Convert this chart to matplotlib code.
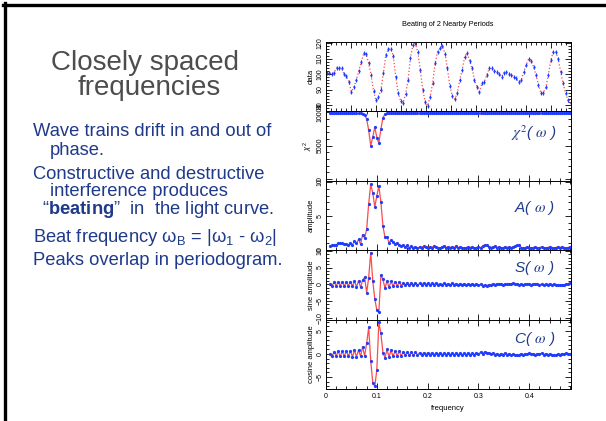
import numpy as np
import matplotlib.pyplot as plt
from matplotlib.lines import Line2D
from matplotlib.ticker import MultipleLocator, AutoMinorLocator

plt.rcParams['font.family'] = ['Liberation Sans', 'DejaVu Sans']
plt.rcParams['mathtext.fontset'] = 'custom'
plt.rcParams['mathtext.rm'] = 'Liberation Sans'
plt.rcParams['mathtext.it'] = 'Liberation Sans:italic'
plt.rcParams['mathtext.bf'] = 'Liberation Sans:bold'

# light curve (top panel), evenly sampled in time
light_curve = [
    100.5, 101, 100, 101, 104, 104, 104, 100, 98.5, 95,
    88.6, 91.5, 96, 102, 107.7, 113.5, 113, 107, 99.5, 89,
    83, 85, 90, 100.5, 112.4, 116.3, 116.3, 112, 98.4, 88,
    82.6, 81.5, 87, 96, 110.7, 119, 120, 114, 102.7, 89.7,
    82, 79.4, 85.4, 94, 107, 114.6, 116.8, 118.3, 113.3, 103.7,
    92.3, 85.8, 83.7, 87.5, 96, 102.6, 111.2, 113.8, 108.6, 104,
    96, 91.8, 88.6, 94, 95, 99.4, 103.7, 103.7, 102, 101.5,
    100, 98.3, 101, 101.5, 100, 99.4, 98.3, 97.2, 95, 96,
    101.5, 105.8, 110, 108.6, 104.7, 99.4, 93, 87.5, 88, 91.4,
    99.4, 109, 114.4, 114.4, 110, 101.5, 94, 87.5, 83.2, 81,
]

# periodogram frequency grid 0.008 .. 0.480, step 0.004
freq = np.round(0.008 + 0.004 * np.arange(119), 3)

chi2 = [
    9900, 9890, 9900, 9890, 9890, 9880, 9890, 9880, 9890, 9870,
    9880, 9870, 9860, 9870, 9840, 9860, 9820, 9650, 9000, 7300,
    5000, 6300, 7800, 6200, 5400, 7500, 9200, 9750, 9850, 9880,
    9890, 9880, 9890, 9900, 9890, 9900, 9890, 9900, 9900, 9890,
    9900, 9890, 9900, 9900, 9890, 9900, 9900, 9890, 9900, 9900,
    9890, 9900, 9900, 9890, 9900, 9900, 9890, 9900, 9900, 9900,
    9890, 9900, 9900, 9890, 9900, 9900, 9900, 9890, 9900, 9900,
    9890, 9900, 9900, 9900, 9890, 9880, 9870, 9880, 9890, 9900,
    9900, 9890, 9900, 9900, 9890, 9900, 9900, 9900, 9890, 9900,
    9890, 9880, 9880, 9890, 9900, 9900, 9890, 9900, 9900, 9890,
    9900, 9900, 9890, 9900, 9900, 9900, 9890, 9900, 9900, 9890,
    9900, 9900, 9890, 9900, 9900, 9890, 9900, 9900, 9890,
]

amp = [
    0.5, 0.6, 0.7, 0.7, 0.9, 1.0, 0.9, 0.8, 0.8, 0.7,
    0.9, 0.7, 1.3, 0.9, 1.5, 0.8, 2.2, 1.7, 3.0, 6.8,
    9.7, 8.4, 6.3, 8.0, 9.4, 7.0, 3.5, 1.8, 1.9, 1.0,
    1.4, 1.1, 0.8, 1.0, 0.6, 0.5, 0.7, 0.4, 0.6, 0.3,
    0.5, 0.3, 0.4, 0.2, 0.4, 0.3, 0.5, 0.4, 0.3, 0.4,
    0.3, 0.5, 0.4, 0.3, 0.2, 0.4, 0.5, 0.3, 0.4, 0.3,
    0.4, 0.3, 0.5, 0.3, 0.4, 0.3, 0.2, 0.3, 0.4, 0.3,
    0.4, 0.2, 0.3, 0.4, 0.3, 0.5, 0.7, 0.7, 0.4, 0.3,
    0.4, 0.5, 0.3, 0.4, 0.3, 0.2, 0.4, 0.3, 0.4, 0.3,
    0.4, 0.5, 0.6, 0.6, 0.3, 0.2, 0.3, 0.4, 0.3, 0.2,
    0.3, 0.4, 0.2, 0.3, 0.4, 0.3, 0.2, 0.3, 0.4, 0.3,
    0.2, 0.3, 0.4, 0.3, 0.4, 0.3, 0.2, 0.3, 0.4,
]

sine_amp = [
    0.0, -0.5, 0.6, -0.4, 0.7, -0.5, 0.8, -0.6, 0.7, -0.5,
    0.8, -0.6, 0.9, -0.8, 1.0, -0.9, 1.2, 2.1, -2.6, 2.0,
    9.5, 1.0, -4.5, -7.7, -8.4, 2.8, 1.5, -1.2, 1.0, -0.9,
    0.9, -0.6, 0.8, -0.5, 0.6, -0.4, 0.5, -0.3, 0.5, -0.3,
    0.4, -0.2, 0.4, -0.3, 0.3, -0.2, 0.4, -0.2, 0.3, -0.3,
    0.3, -0.1, 0.3, -0.2, 0.2, -0.2, 0.3, -0.1, 0.2, -0.2,
    0.3, -0.1, 0.2, -0.2, 0.2, -0.1, 0.2, -0.2, 0.1, -0.1,
    0.2, -0.2, 0.1, -0.3, 0.0, -0.4, -0.2, -0.5, -0.1, -0.2,
    0.1, -0.1, 0.2, 0.0, 0.2, -0.1, 0.1, 0.0, 0.2, 0.1,
    0.3, 0.0, 0.2, -0.1, 0.1, -0.1, 0.1, 0.0, 0.1, -0.1,
    0.1, 0.0, 0.1, -0.1, 0.0, -0.2, 0.0, -0.1, 0.1, -0.2,
    0.0, -0.2, -0.1, -0.3, -0.1, -0.2, 0.0, 0.2, 0.4,
]

cosine_amp = [
    0.0, -0.5, 0.5, -0.4, 0.6, -0.5, 0.6, -0.5, 0.7, -0.5,
    0.7, -0.6, 0.8, -0.6, 0.9, -0.5, 1.6, -0.4, 2.4, 5.8,
    -1.5, -6.2, -7.0, -3.4, 6.9, 4.5, 0.3, -0.8, 1.0, -0.6,
    0.8, -0.5, 0.7, -0.4, 0.6, -0.4, 0.5, -0.3, 0.5, -0.3,
    0.4, -0.3, 0.4, -0.2, 0.3, -0.3, 0.3, -0.2, 0.3, -0.2,
    0.3, -0.2, 0.2, -0.1, 0.3, -0.2, 0.2, -0.2, 0.3, -0.1,
    0.2, -0.2, 0.3, -0.1, 0.2, -0.2, 0.2, -0.1, 0.3, -0.1,
    0.2, -0.1, 0.3, 0.0, 0.4, 0.1, 0.5, 0.2, 0.3, 0.0,
    0.2, -0.1, 0.1, -0.2, 0.1, -0.1, 0.2, -0.1, 0.1, -0.2,
    0.0, -0.3, -0.1, -0.2, 0.1, -0.1, 0.1, 0.0, 0.2, 0.0,
    0.1, -0.1, 0.1, 0.0, 0.2, -0.1, 0.1, -0.1, 0.0, -0.2,
    -0.1, -0.2, 0.0, -0.1, 0.1, 0.0, 0.2, 0.1, 0.1,
]

freq_ticks = [0, 0.1, 0.2, 0.3, 0.4]
freq_labels = ['0', '0.1', '0.2', '0.3', '0.4']

BLUE = '#1f3dff'
RED = '#ff4a4a'
NAVY = '#1f3a8a'

W, H = 606, 421
fig = plt.figure(figsize=(W / 100, H / 100), dpi=100)


def fx(px):
    return px / W


def fy(py):
    return 1 - py / H


# slide frame (top and left edges visible)
fig.add_artist(Line2D([fx(3), 1], [fy(5), fy(5)], color='black', lw=2.4))
fig.add_artist(Line2D([fx(5), fx(5)], [fy(3), 0], color='black', lw=2.4))

# left text block
fig.text(fx(145), fy(70), 'Closely spaced', fontsize=20, color='#4d4d4d',
         ha='center', va='baseline')
fig.text(fx(149), fy(95), 'frequencies', fontsize=20, color='#4d4d4d',
         ha='center', va='baseline')
body = dict(fontsize=13.2, color=NAVY, va='baseline')
fig.text(fx(33), fy(136), 'Wave trains drift in and out of', **body)
fig.text(fx(50), fy(155), 'phase.', **body)
fig.text(fx(33), fy(179), 'Constructive and destructive', **body)
fig.text(fx(50), fy(196), 'interference produces', **body)
fig.text(fx(42), fy(214), '\u201c$\\mathbf{beating}$\u201d  in  the light curve.', **body)
fig.text(fx(33), fy(242), 'Beat frequency \u03c9$_\\mathrm{B}$ = |\u03c9$_1$ - \u03c9$_2$|', **body)
fig.text(fx(33), fy(265), 'Peaks overlap in periodogram.', **body)

# stacked panels
left, right = 326, 571
edges = [42, 111.4, 180.8, 250.2, 319.6, 389]
axes = []
for k in range(5):
    ax = fig.add_axes([fx(left), fy(edges[k + 1]), (right - left) / W,
                       (edges[k + 1] - edges[k]) / H])
    ax.tick_params(which='both', direction='in', top=True, right=True,
                   labelsize=5, width=0.6, pad=1.5)
    ax.tick_params(which='major', length=4)
    ax.tick_params(which='minor', length=2)
    ax.tick_params(axis='y', labelrotation=90)
    for s in ax.spines.values():
        s.set_linewidth(0.7)
    axes.append(ax)

ylab = dict(fontsize=5.5, labelpad=1.5)

# data panel
ax = axes[0]
t = np.linspace(0.03, 9.78, len(light_curve))
ax.plot(t, light_curve, ':', color=RED, lw=0.9)
ax.errorbar(t, light_curve, yerr=1.3, fmt='o', ms=1.6, color=BLUE,
            mec='none', elinewidth=0.8, capsize=0)
ax.set_xlim(0, 9.8)
ax.set_ylim(75.8, 120.8)
ax.xaxis.set_major_locator(MultipleLocator(1))
ax.xaxis.set_minor_locator(AutoMinorLocator(5))
ax.set_yticks([80, 90, 100, 110, 120])
ax.yaxis.set_minor_locator(AutoMinorLocator(5))
ax.set_xticklabels([])
ax.set_ylabel('data', **ylab)

series = [
    (axes[1], chi2, (-270, 10150), [0, 5000, 10000], r'$\chi^2$( $\omega$ )', 0.69, '$\\chi^2$'),
    (axes[2], amp, (-0.1, 10.2), [0, 5, 10], 'A( $\\omega$ )', 0.61, 'amplitude'),
    (axes[3], sine_amp, (-10.6, 10.2), [-10, -5, 0, 5, 10], 'S( $\\omega$ )', 0.74, 'sine amplitude'),
    (axes[4], cosine_amp, (-7.6, 7.5), [-5, 0, 5], 'C( $\\omega$ )', 0.72, 'cosine amplitude'),
]
for ax, vals, ylim, yt, tag, ty, lab in series:
    ax.plot(freq, vals, color=RED, lw=0.9)
    ax.plot(freq, vals, 'o', ms=2.3, color=BLUE, mec='none')
    ax.set_xlim(0, 0.482)
    ax.set_ylim(*ylim)
    ax.set_xticks(freq_ticks)
    ax.xaxis.set_minor_locator(MultipleLocator(0.02))
    ax.set_yticks(yt)
    ax.yaxis.set_minor_locator(AutoMinorLocator(5))
    ax.set_ylabel(lab, **ylab)
    ax.text(0.85, ty, tag, transform=ax.transAxes, ha='center', va='center',
            fontsize=11, fontstyle='italic', color=NAVY, math_fontfamily='stix')
    if ax is not axes[4]:
        ax.set_xticklabels([])
    else:
        ax.set_xticklabels(freq_labels)
        ax.tick_params(axis='x', pad=3)

for lbl in sum([a.get_yticklabels() for a in axes], []):
    lbl.set_va('center')

fig.text(fx(448), fy(409), 'frequency', fontsize=5.5, ha='center', va='center')
fig.text(fx(448), fy(25), 'Beating of 2 Nearby Periods', fontsize=5.3,
         ha='center', va='center')

fig.savefig('out.png', dpi=100)
